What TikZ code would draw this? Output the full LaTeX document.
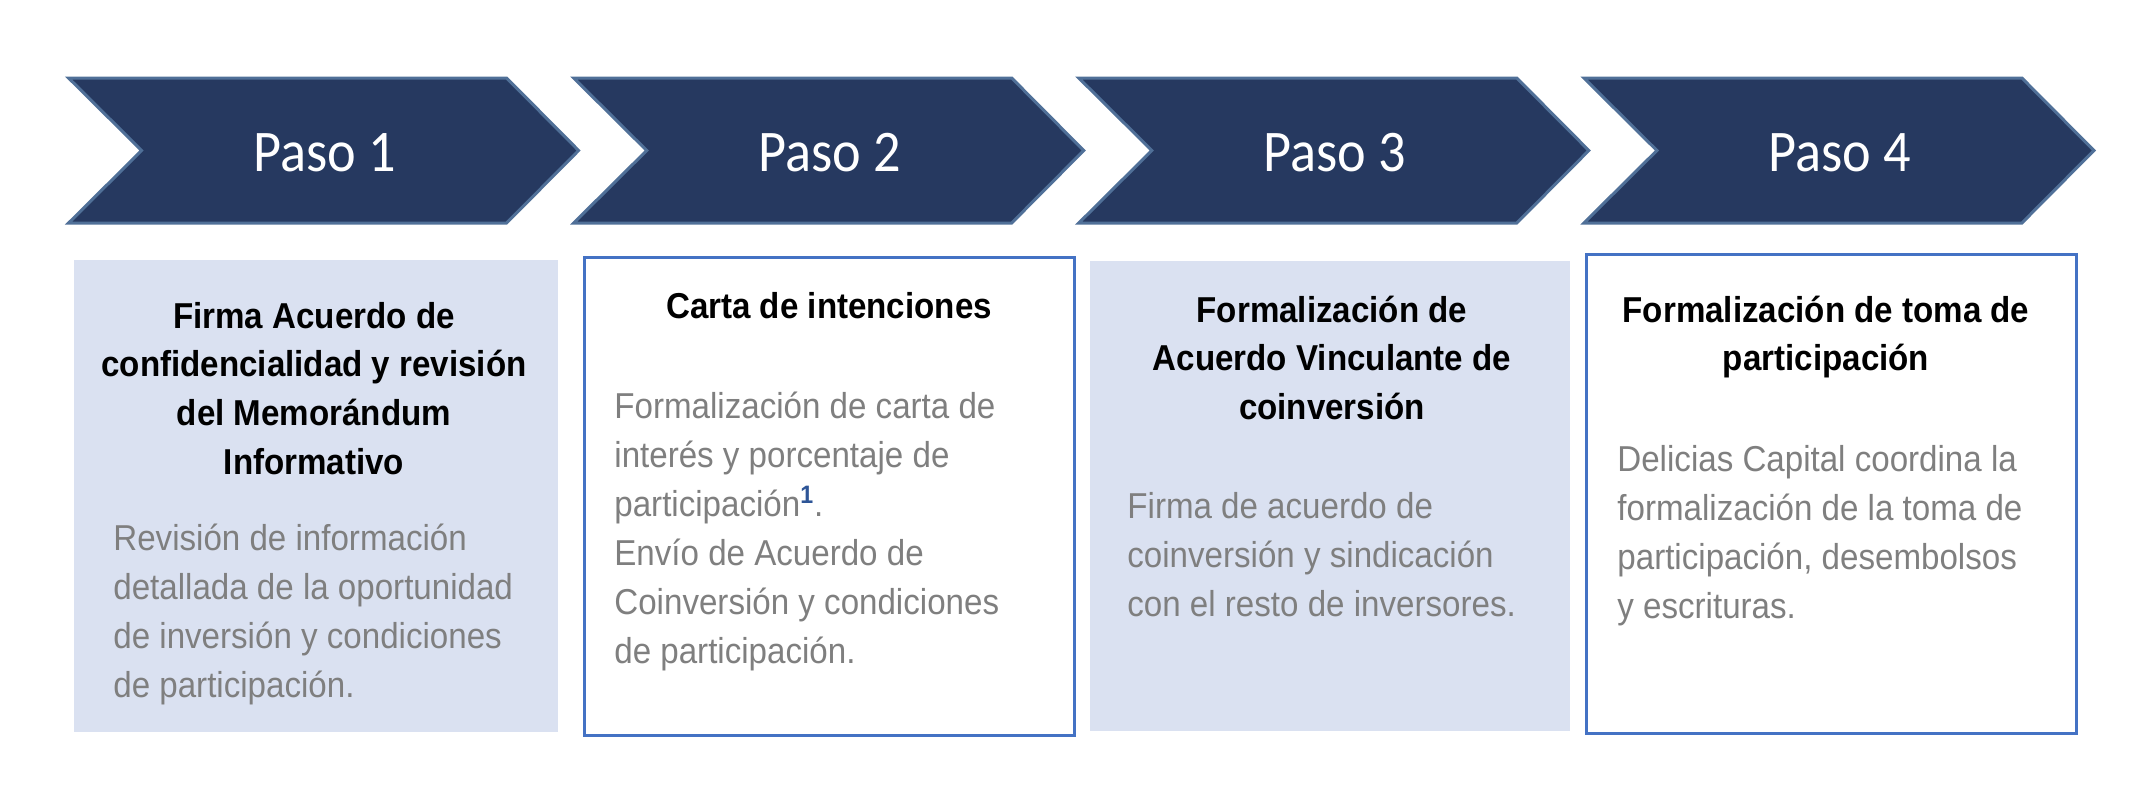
\documentclass[tikz,border=0pt]{standalone}
\usepackage{fontspec}
\setmainfont{Liberation Sans}[FakeStretch=0.92]
\newfontfamily\pasofont{Carlito}[FakeStretch=0.92]
\definecolor{navy}{RGB}{38,57,96}
\definecolor{navyedge}{RGB}{80,112,152}
\definecolor{lav}{RGB}{218,225,241}
\definecolor{boxblue}{RGB}{68,114,196}
\definecolor{txtgray}{RGB}{127,127,127}
\definecolor{supblue}{RGB}{46,85,151}
\tikzset{
  chev/.style={fill=navy, draw=navyedge, line width=1.5pt, line join=miter},
  pasolbl/.style={font=\pasofont\fontsize{29.5}{32}\selectfont, text=white, anchor=base, inner sep=0pt},
  filledbox/.style={fill=lav, draw=none, inner sep=0pt},
  linedbox/.style={fill=white, draw=boxblue, line width=1.5pt, inner sep=0pt},
  ttl/.style={font=\bfseries\fontsize{18}{22}\selectfont, text=black, anchor=base, inner sep=0pt},
  bdy/.style={font=\fontsize{18}{22}\selectfont, text=txtgray, anchor=base west, inner sep=0pt}
}
\begin{document}
\begin{tikzpicture}[x=0.5pt,y=-0.5pt]
\useasboundingbox (0,0) rectangle (2152,788);
% chevrons
\foreach \i in {0,...,3}{
  \pgfmathsetmacro{\L}{68.6+505.1*\i}
  \pgfmathtruncatemacro{\n}{\i+1}
  \draw[chev] (\L,78) -- (\L+438,78) -- (\L+510,150.5) -- (\L+438,223) -- (\L,223) -- (\L+73,150.5) -- cycle;
  \node[pasolbl] (paso\n) at (\L+256,171) {Paso \n};
}
% boxes
\node[filledbox, minimum width=242pt, minimum height=236pt] (box1) at (316,496) {};
\node[linedbox, minimum width=245pt, minimum height=239pt] (box2) at (829,496) {};
\node[filledbox, minimum width=240pt, minimum height=235pt] (box3) at (1330,496) {};
\node[linedbox, minimum width=245pt, minimum height=239.5pt] (box4) at (1831,493.5) {};
% box 1 texts
\foreach \t [count=\k] in {Firma Acuerdo de, confidencialidad y revisión, del Memorándum, Informativo}
  \node[ttl] (t1-\k) at (314,328+48.7*\k-48.7) {\t};
\foreach \t [count=\k] in {Revisión de información, detallada de la oportunidad, de inversión y condiciones, de participación.}
  \node[bdy] (b1-\k) at (113,550+49.3*\k-49.3) {\t};
% box 2 texts
\node[ttl] (t2-1) at (829,318) {Carta de intenciones};
\foreach \t [count=\k] in {Formalización de carta de, interés y porcentaje de, {participación\textsuperscript{\textcolor{supblue}{\bfseries 1}}.}, Envío de Acuerdo de, Coinversión y condiciones, de participación.}
  \node[bdy] (b2-\k) at (614,418+49*\k-49) {\t};
% box 3 texts
\foreach \t [count=\k] in {Formalización de, Acuerdo Vinculante de, coinversión}
  \node[ttl] (t3-\k) at (1332,322+48.7*\k-48.7) {\t};
\foreach \t [count=\k] in {Firma de acuerdo de, coinversión y sindicación, con el resto de inversores.}
  \node[bdy] (b3-\k) at (1127,518+49.3*\k-49.3) {\t};
% box 4 texts
\foreach \t [count=\k] in {Formalización de toma de, participación}
  \node[ttl] (t4-\k) at (1826,322+48.7*\k-48.7) {\t};
\foreach \t [count=\k] in {Delicias Capital coordina la, formalización de la toma de, {participación, desembolsos}, y escrituras.}
  \node[bdy] (b4-\k) at (1617,471+49.3*\k-49.3) {\t};
\end{tikzpicture}
\end{document}
